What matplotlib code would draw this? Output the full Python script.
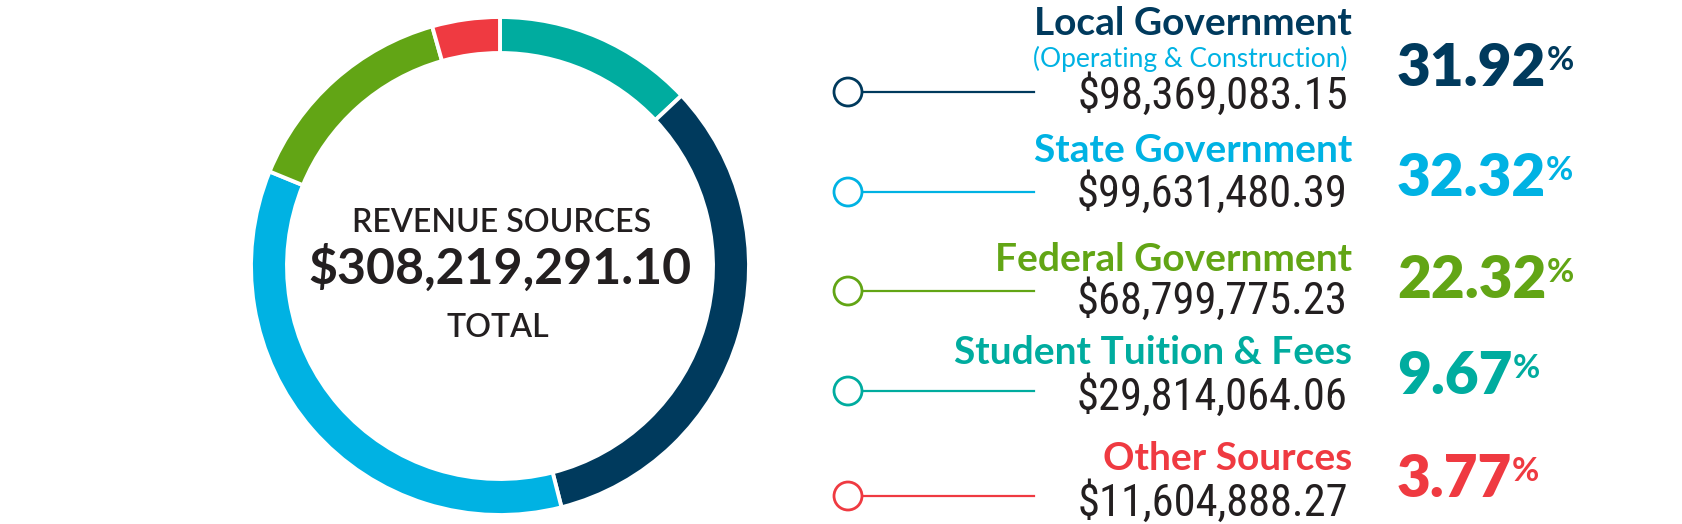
import matplotlib
matplotlib.use('Agg')
import matplotlib.pyplot as plt
from matplotlib import font_manager
from matplotlib.patches import Circle

# Revenue data
sources = ['Local Government', 'State Government', 'Federal Government',
           'Student Tuition & Fees', 'Other Sources']
amounts = ['$98,369,083.15', '$99,631,480.39', '$68,799,775.23',
           '$29,814,064.06', '$11,604,888.27']
percents = ['31.92', '32.32', '22.32', '9.67', '3.77']
colors = ['#003a5d', '#00b2e3', '#62a515', '#00ac9f', '#ef3a41']
total = '$308,219,291.10'

ring_order = ['Student Tuition & Fees', 'Local Government', 'State Government',
              'Federal Government', 'Other Sources']
ring_deg = [46.8, 118.9, 126.6, 51.9, 15.8]

W, H = 1682, 524
names = {f.name for f in font_manager.fontManager.ttflist}
base = 'Lato' if 'Lato' in names else 'DejaVu Sans'
narrow = base
for cand in ['Liberation Sans Narrow', 'Roboto Condensed', 'Open Sans Condensed']:
    if cand in names:
        narrow = cand
        break
plt.rcParams['font.family'] = [base, 'DejaVu Sans']

fig = plt.figure(figsize=(W / 100, H / 100), dpi=100)
ax = fig.add_axes([0, 0, 1, 1])

# donut
cx, cy, r_out, ring_w = 500, 266, 249, 36
ring_colors = [colors[sources.index(s)] for s in ring_order]
ax.pie(ring_deg, colors=ring_colors, startangle=90, counterclock=False,
       radius=r_out, center=(cx, H - cy),
       wedgeprops=dict(width=ring_w, edgecolor='white', linewidth=2.8))

dark = '#231f20'
ax.text(502, H - 232, 'REVENUE SOURCES', ha='center', va='baseline',
        fontsize=23, fontweight='semibold', color=dark)
ax.text(500, H - 284, total, ha='center', va='baseline',
        fontsize=36, fontweight='bold', color=dark)
ax.text(498, H - 337, 'TOTAL', ha='center', va='baseline',
        fontsize=23, fontweight='semibold', color=dark)

# legend rows
name_y = [35, 162, 271, 364, 470]
amt_y = [109, 207, 314, 410, 516]
dot_y = [92, 192, 291, 391, 496]
pct_y = [86, 196, 298, 394, 497]
for i in range(len(sources)):
    c = colors[i]
    ax.text(1352, H - name_y[i], sources[i], ha='right', va='baseline',
            fontsize=28, fontweight='bold', color=c)
    ax.text(1348, H - amt_y[i], amounts[i], ha='right', va='baseline',
            fontsize=32, family=[narrow, 'DejaVu Sans'], color=dark)
    ax.add_patch(Circle((848, H - dot_y[i]), 14, facecolor='white',
                        edgecolor=c, linewidth=2, zorder=3))
    ax.plot([862, 1034], [H - dot_y[i], H - dot_y[i]], color=c, lw=1.6, zorder=2)
    num = ax.text(1397, H - pct_y[i], percents[i], ha='left', va='baseline',
                  fontsize=42, fontweight='heavy', color=c)
    ax.annotate('%', xy=(1, 1), xycoords=num, xytext=(0, -3),
                textcoords='offset points', ha='left', va='top',
                fontsize=24, fontweight='bold', color=c)

ax.text(1348, H - 67, '(Operating & Construction)', ha='right', va='baseline',
        fontsize=19, color='#00b2e3')

ax.set_xlim(0, W)
ax.set_ylim(0, H)
ax.set_aspect('equal')
ax.axis('off')

plt.savefig('out.png', dpi=100)
